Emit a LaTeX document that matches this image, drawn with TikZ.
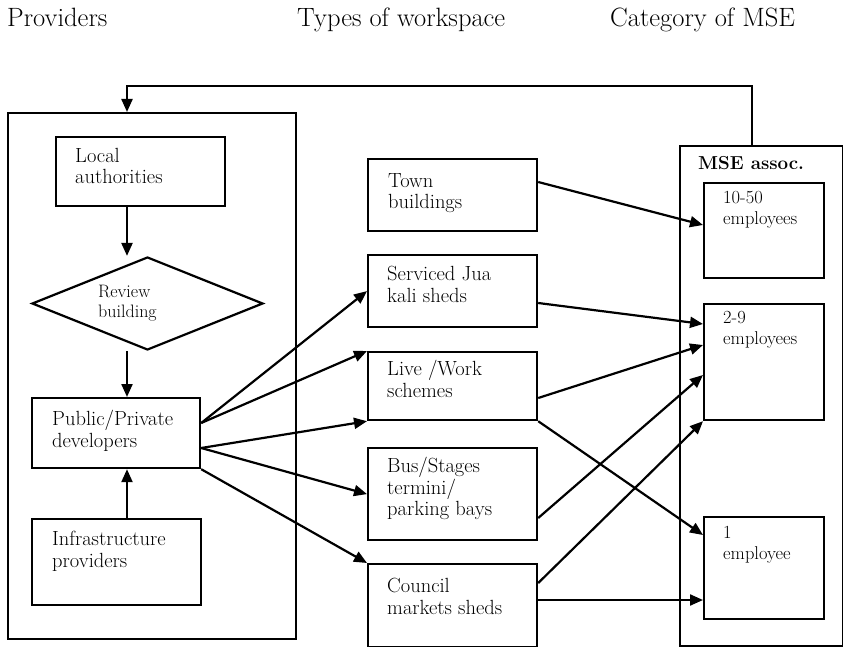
\documentclass[tikz,border=0pt]{standalone}
\usetikzlibrary{arrows.meta,calc,shapes.geometric}
\begin{document}
\begin{tikzpicture}[x=1pt,y=-1pt,
  box/.style={draw,line width=2.2pt,inner sep=0pt,anchor=north west},
  outer/.style={draw,line width=2pt,inner sep=0pt,anchor=north west},
  arr/.style={line width=2.2pt,-{Triangle[length=13pt,width=11pt]}},
  txt/.style={anchor=north west,inner sep=0pt,align=left,font=\fontsize{20.5}{21.5}\selectfont},
  small/.style={anchor=north west,inner sep=0pt,align=left,font=\fontsize{18.5}{21}\selectfont},
  head/.style={anchor=base west,inner sep=0pt,font=\fontsize{26.5}{30}\selectfont}]
\useasboundingbox (0,0) rectangle (843,647);

% headers
\node[head] (h1) at (7,27) {Providers};
\node[head] (h2) at (297,27) {Types of workspace};
\node[head] (h3) at (610,27) {Category of MSE};

% providers column
\node[outer,minimum width=288pt,minimum height=526pt] (prov) at (7,112) {};
\node[box,minimum width=169pt,minimum height=69pt] (la) at (55,136) {};
\node[txt] (lat) at (75,148) {Local\\authorities};
\node[draw,line width=2.2pt,diamond,inner sep=0pt,minimum width=231pt,minimum height=93pt] (rev) at (147.5,303.5) {};
\node[anchor=north west,inner sep=0pt,align=left,font=\fontsize{18}{20}\selectfont] (revt) at (98,285.5) {Review\\building};
\node[box,minimum width=168pt,minimum height=70pt] (pub) at (31,397) {};
\node[txt] (pubt) at (52,410) {Public/Private\\developers};
\node[box,minimum width=169pt,minimum height=86pt] (inf) at (31,518) {};
\node[txt] (inft) at (52,531) {Infrastructure\\providers};

% workspace column
\node[box,minimum width=169pt,minimum height=72pt] (town) at (367,158) {};
\node[txt] (townt) at (388,173) {Town\\buildings};
\node[box,minimum width=169pt,minimum height=72pt] (serv) at (367,254) {};
\node[txt] (servt) at (387,266) {Serviced Jua\\kali sheds};
\node[box,minimum width=169pt,minimum height=68pt] (live) at (367,351) {};
\node[txt] (livet) at (387,360) {Live /Work\\schemes};
\node[box,minimum width=169pt,minimum height=92pt] (bus) at (367,447) {};
\node[txt] (bust) at (387,457) {Bus/Stages\\termini/\\parking bays};
\node[box,minimum width=169pt,minimum height=83pt] (coun) at (367,563) {};
\node[txt] (count) at (387,578) {Council\\markets sheds};

% MSE column
\node[outer,minimum width=163pt,minimum height=500pt] (mse) at (679,145) {};
\node[anchor=north west,inner sep=0pt,font=\fontsize{18.75}{21}\selectfont\bfseries] (mset) at (698,156) {MSE assoc.};
\node[box,minimum width=120pt,minimum height=95pt] (m10) at (703,182) {};
\node[small] (m10t) at (723,191) {10-50\\employees};
\node[box,minimum width=120pt,minimum height=116pt] (m29) at (703,303) {};
\node[small] (m29t) at (723,311) {2-9\\employees};
\node[box,minimum width=120pt,minimum height=102pt] (m1) at (703,516) {};
\node[small] (m1t) at (723,526) {1\\employee};

% feedback loop
\coordinate (fb1) at ($(mse.north west)+(73,0)$);
\coordinate (fb2) at ($(prov.north west)+(120,0)$);
\draw[arr] (fb1) -- ++(0,-59) -| (fb2);

% vertical arrows in providers column
\draw[arr] (la.south -| fb2) -- (rev.north -| fb2);
\draw[arr] (rev.south -| fb2) -- (pub.north -| fb2);
\draw[arr] (inf.north -| fb2) -- (pub.south -| fb2);

% developers to workspace
\coordinate (p1) at ($(pub.north east)+(0,26)$);
\coordinate (p2) at ($(pub.north east)+(0,51)$);
\draw[arr] (p1) -- (serv.west);
\draw[arr] (p1) -- (live.north west);
\draw[arr] (p2) -- (live.south west);
\draw[arr] (p2) -- (bus.west);
\draw[arr] (pub.south east) -- (coun.north west);

% workspace to MSE
\draw[arr] ($(town.north east)+(0,24)$) -- ($(m10.north west)+(0,43)$);
\draw[arr] ($(serv.north east)+(0,49)$) -- ($(m29.north west)+(0,21)$);
\draw[arr] ($(live.north east)+(0,47)$) -- ($(m29.north west)+(0,42)$);
\draw[arr] (live.south east) -- ($(m1.north west)+(0,19)$);
\draw[arr] ($(bus.north east)+(0,71)$) -- ($(m29.north west)+(0,72)$);
\draw[arr] ($(coun.north east)+(0,20)$) -- (m29.south west);
\draw[arr] ($(coun.north east)+(0,37)$) -- ($(m1.north west)+(0,84)$);
\end{tikzpicture}
\end{document}
